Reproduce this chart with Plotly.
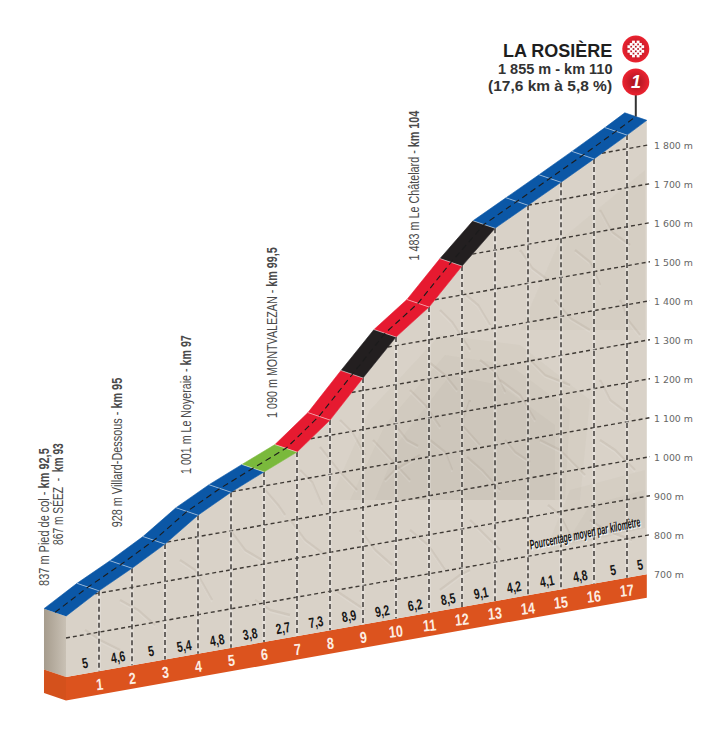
import json
import numpy as np
import plotly.graph_objects as go

# ---- data ----
km_marks = [0, 1, 2, 3, 4, 5, 6, 7, 8, 9, 10, 11, 12, 13, 14, 15, 16, 17, 17.6]
profile_alt = [856, 906, 949, 996, 1055, 1099, 1136, 1172, 1239, 1332, 1422, 1484, 1574, 1656, 1700, 1744, 1789, 1835, 1864]
grades = ["5", "4,6", "5", "5,4", "4,8", "3,8", "2,7", "7,3", "8,9", "9,2", "6,2", "8,5", "9,1", "4,2", "4,1", "4,8", "5", "5"]
BLUE, GREEN, RED, BLACK = "#0b57a6", "#7ab93c", "#e61a30", "#231f20"
segment_colors = [BLUE] * 6 + [GREEN] + [RED] * 2 + [BLACK] + [RED] * 2 + [BLACK] + [BLUE] * 5
km_numbers = list(range(1, 18))
grid_alts = [800, 900, 1000, 1100, 1200, 1300, 1400, 1500, 1600, 1700, 1800]
tick_alts = [700] + grid_alts
tick_texts = ["700 m", "800 m", "900 m", "1 000 m", "1 100 m", "1 200 m", "1 300 m", "1 400 m", "1 500 m", "1 600 m", "1 700 m", "1 800 m"]
passage_texts = ["837 m Pied de col - <b>km 92,5</b>", "867 m SÉEZ  -  <b>km 93</b>", "928 m Villard-Dessous - <b>km 95</b>",
                 "1 001 m Le Noyeraie - <b>km 97</b>", "1 090 m MONTVALEZAN - <b>km 99,5</b>", "1 483 m Le Châtelard - <b>km 104</b>"]

# ---- layout of the passage labels, in page pixels: centre x, bottom y, length ----
passage_layout = [(44, 588, 138), (58, 547, 102), (117, 530, 150), (186, 476, 139), (272, 420, 171), (414, 263, 150)]

# ---- oblique projection of the drawing, in axis units (km, metres) ----
SHEAR = 14.97      # the whole block rises to the right, metres per km
DEPTH_KM = -0.667  # road width seen in perspective
DEPTH_M = 19.2
BASE = 700
FOOT = 640
KM_PER_PX = 1 / 33
M_PER_PX = 1 / 0.39
Y0 = 677  # page y of the front foot of the profile at km 0


def sy(km, alt):
    return np.asarray(alt, dtype=float) + SHEAR * np.asarray(km, dtype=float)


def PX(px):
    return (px - 66) * KM_PER_PX


def PY(py):
    return float(sy(0, BASE)) + (Y0 - py) * M_PER_PX


km = np.array(km_marks, dtype=float)
alt = np.array(profile_alt, dtype=float)
km_end = km[-1]
top = sy(km, alt)

fig = go.Figure()


def poly(xs, ys, color, line=None, **kw):
    fig.add_trace(go.Scatter(x=list(xs), y=list(ys), mode="lines", fill="toself", fillcolor=color,
                             line=dict(color=line or color, width=0.6 if line else 0), hoverinfo="skip", **kw))


def stroke(xs, ys, color, width, dash="solid"):
    fig.add_trace(go.Scatter(x=list(xs), y=list(ys), mode="lines",
                             line=dict(color=color, width=width, dash=dash), hoverinfo="skip"))


# left side of the block
poly([0, DEPTH_KM, DEPTH_KM, 0], [top[0], top[0] + DEPTH_M, sy(0, BASE) + DEPTH_M, sy(0, BASE)], "#b3aa9c",
     fillgradient=dict(type="horizontal", colorscale=[[0, "#a69c8d"], [1, "#c9c1b5"]]))
poly([0, DEPTH_KM, DEPTH_KM, 0], [sy(0, BASE), sy(0, BASE) + DEPTH_M, sy(0, FOOT) + DEPTH_M, sy(0, FOOT)], "#d4511c")

# front faces
poly([0, km_end, km_end, 0], [sy(0, BASE), sy(km_end, BASE), sy(km_end, FOOT), sy(0, FOOT)], "#dc531e")
poly(list(km) + [km_end, 0], list(top) + [sy(km_end, BASE), sy(0, BASE)], "#d9d2c8")

# relief shading painted on the face of the block (page pixels), soft nested patches
shade_patches = [
    ([330, 580, 590, 520, 440, 370], [500, 500, 400, 345, 335, 410]),
    ([350, 565, 570, 510, 445, 385], [500, 500, 410, 365, 355, 425]),
    ([375, 555, 555, 500, 450, 400], [500, 500, 425, 385, 375, 440]),
    ([545, 645, 645, 570], [552, 528, 470, 490]),
    ([565, 645, 645, 590], [545, 528, 490, 505]),
    ([520, 645, 645, 560], [330, 330, 170, 240]),
]
for xs, ys in shade_patches:
    poly([PX(v) for v in xs], [PY(v) for v in ys], "rgba(120,100,80,0.035)")
relief = [
    [(430, 363), (445, 375), (457, 390)], [(410, 390), (425, 405), (440, 427)], [(373, 440), (390, 458), (410, 480)],
    [(320, 447), (338, 470), (357, 490)], [(467, 457), (482, 470), (500, 490)], [(500, 380), (520, 395), (535, 420)],
    [(470, 400), (462, 425), (480, 445)], [(340, 420), (352, 432), (365, 455)], [(555, 300), (570, 318), (590, 330)],
    [(520, 250), (532, 268), (548, 280)], [(600, 210), (612, 232), (630, 245)], [(440, 310), (452, 322), (470, 350)],
    [(540, 440), (560, 450), (585, 475)], [(600, 380), (610, 400), (630, 415)], [(590, 520), (605, 530), (632, 540)],
    [(548, 505), (560, 515), (570, 535)], [(470, 520), (485, 535), (500, 550)], [(410, 530), (428, 545), (445, 570)],
    [(360, 530), (375, 550), (392, 565)], [(290, 520), (305, 540), (325, 555)], [(230, 530), (245, 550), (262, 560)],
    [(180, 560), (195, 570), (212, 600)], [(120, 600), (138, 610), (155, 625)], [(85, 630), (100, 640), (120, 650)],
    [(255, 600), (270, 610), (290, 615)], [(335, 590), (350, 600), (365, 610)], [(440, 590), (460, 575), (470, 570)],
    [(530, 360), (545, 375), (570, 385)], [(620, 300), (628, 320), (640, 335)], [(385, 480), (395, 470), (420, 455)],
    [(395, 425), (407, 440), (418, 446)], [(430, 440), (445, 452), (452, 470)], [(505, 440), (515, 452), (530, 462)],
    [(480, 360), (495, 372), (505, 392)], [(460, 290), (478, 305), (490, 325)], [(575, 250), (590, 262), (600, 285)],
    [(300, 470), (312, 482), (322, 505)], [(265, 490), (278, 505), (285, 515)], [(600, 440), (615, 450), (635, 470)],
]
for pts in relief:
    xs = [PX(p[0]) for p in pts]
    stroke(xs, [PY(p[1]) for p in pts], "rgba(125,110,95,0.11)", 2.4)
    stroke(xs, [PY(p[1] + 2) for p in pts], "rgba(255,255,255,0.12)", 1.6)

# grid
for a in grid_alts:
    start = float(np.interp(a, alt, km))
    xs = np.array([start, km_end + 0.13])
    stroke(xs, sy(xs, a), "#3f3a35", 1.4, "4px,3px")
for k in km_numbers:
    a_top = float(np.interp(k, km, alt))
    stroke([k, k], [sy(k, a_top), sy(k, BASE)], "rgba(255,255,255,0.35)", 3)
    stroke([k, k], [sy(k, a_top), sy(k, BASE)], "#33302d", 1.4, "5px,3px")

# road
for i, c in enumerate(segment_colors):
    xs = [km[i], km[i + 1], km[i + 1] + DEPTH_KM, km[i] + DEPTH_KM]
    ys = [top[i], top[i + 1], top[i + 1] + DEPTH_M, top[i] + DEPTH_M]
    poly(xs, ys, c, line=c)
for i in range(1, len(km) - 1):
    stroke([km[i], km[i] + DEPTH_KM], [top[i], top[i] + DEPTH_M], "rgba(255,255,255,0.5)", 1)
stroke(km + DEPTH_KM / 2, top + DEPTH_M / 2, "#1c1c1c", 1.1, "6px,4px")

# summit flag pole and badges
pole_x = km_end + DEPTH_KM / 2
pole_y = top[-1] + DEPTH_M / 2
stroke([pole_x, pole_x], [pole_y, PY(90)], "#333333", 2)
badge_y = [PY(82), PY(49)]
fig.add_trace(go.Scatter(x=[pole_x, pole_x], y=badge_y, mode="markers", hoverinfo="skip",
                         marker=dict(size=27, color="#ec2330", line=dict(width=0),
                                     gradient=dict(type="radial", color="#a31420"))))

# checker on the upper badge
cx, cy = [], []
for row in range(-3, 4):
    for col in range(-3, 4):
        if (row + col) % 2 == 0 and row ** 2 + col ** 2 <= 11:
            cx.append(pole_x + col * 2.3 * KM_PER_PX)
            cy.append(badge_y[1] + row * 2.3 * M_PER_PX)
fig.add_trace(go.Scatter(x=cx, y=cy, mode="markers", hoverinfo="skip",
                         marker=dict(symbol="square", size=2.9, color="white", line=dict(width=0))))

NARROW = "Liberation Sans, sans-serif"
ann = []
fits = {}  # annotation index -> horizontal squeeze, because no condensed face is installed


def add_ann(fit=None, **kw):
    kw.setdefault("showarrow", False)
    kw.setdefault("xref", "x")
    kw.setdefault("yref", "y")
    if fit:
        fits[len(ann)] = fit
    ann.append(kw)


# grades per kilometre
for i, g in enumerate(grades):
    mid = (km[i] + km[i + 1]) / 2 + 0.08
    add_ann(x=mid, y=sy(mid, BASE + 27), text=f"<b>{g}</b>", textangle=-10,
            font=dict(family=NARROW, size=14.5, color="#161616"), fit=dict(s=0.72, o=0.5))
# kilometre numbers
for k in km_numbers:
    add_ann(x=k, y=sy(k, BASE - 33), text=f"<b>{k}</b>", textangle=-6,
            font=dict(family=NARROW, size=16, color="#fdeee3"), fit=dict(s=0.78, o=0.5))
# passages
for text, (px, py, length) in zip(passage_texts, passage_layout):
    add_ann(x=PX(px), y=PY(py), text=text, textangle=-90, yanchor="bottom",
            font=dict(family=NARROW, size=14, color="#4a4a4a"), fit=dict(w=length, o=0))
# legend note
add_ann(x=PX(585), y=PY(533), text="<b><i>Pourcentage moyen par kilomètre</i></b>", textangle=-12,
        font=dict(family=NARROW, size=13.5, color="#111111", shadow="1px 1px 1px #ffffff"), fit=dict(w=113, o=0.5))
# summit text
tx = PX(613.5)
add_ann(x=tx, y=PY(50), text="<b>LA ROSIÈRE</b>", xanchor="right",
        font=dict(family="Liberation Sans, sans-serif", size=18, color="#1e1e1e"))
add_ann(x=tx, y=PY(69), text="<b>1 855 m - km 110</b>", xanchor="right",
        font=dict(family="Liberation Sans, sans-serif", size=14.5, color="#333333"))
add_ann(x=tx, y=PY(85.5), text="<b>(17,6 km à 5,8 %)</b>", xanchor="right",
        font=dict(family="Liberation Sans, sans-serif", size=15.5, color="#333333"))
# "1" on the lower badge
add_ann(x=pole_x, y=badge_y[0], text="<b><i>1</i></b>",
        font=dict(family="Liberation Sans, sans-serif", size=18, color="white"))

PLOT_W = 650
RIGHT = 78
fig.update_layout(
    width=728, height=739, margin=dict(l=0, r=RIGHT, t=0, b=0), showlegend=False,
    paper_bgcolor="white", plot_bgcolor="white", annotations=ann,
    xaxis=dict(range=[PX(0), PX(PLOT_W)], visible=False, fixedrange=True),
    yaxis=dict(range=[PY(739), PY(0)],
               side="right", showgrid=False, zeroline=False, showline=False, ticks="", fixedrange=True,
               tickmode="array", tickvals=[float(sy(km_end, a)) for a in tick_alts], ticktext=tick_texts,
               ticklabelstandoff=3, tickfont=dict(family="DejaVu Sans, sans-serif", size=9.4, color="#666666")),
)

post = """
document.body.style.margin='0';
var gd=document.getElementById('{plot_id}');
var FITS=%s;
function squeeze(){
  Object.keys(FITS).forEach(function(k){
    var t=gd.querySelector('.annotation[data-index="'+k+'"] text.annotation-text');
    if(!t) return;
    t.removeAttribute('transform');
    var b=t.getBBox(), f=FITS[k];
    var s=f.s||(f.w/b.width), c=b.x+b.width*f.o;
    t.setAttribute('transform','translate('+c+',0) scale('+s+',1) translate('+(-c)+',0)');
  });
}
squeeze();
gd.on('plotly_afterplot',squeeze);
setTimeout(squeeze,50);
""" % json.dumps(fits)
fig.write_html("out.html", config={"displayModeBar": False}, post_script=post)
